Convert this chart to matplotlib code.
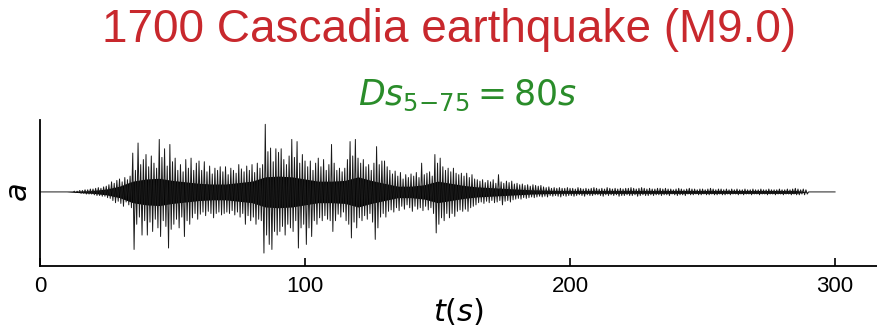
import matplotlib
matplotlib.use("Agg")
import matplotlib.pyplot as plt

# peak amplitudes per second (percent of axis half-height)
time_s = list(range(0, 301))

upper = [
    0, 0, 0, 0, 0, 0, 0, 0, 0, 0,
    0, 0, 0, 1, 1, 2, 2, 3, 3, 4,
    4, 5, 6, 5, 7, 8, 10, 14, 12, 16,
    18, 14, 20, 17, 22, 54, 30, 68, 38, 45,
    52, 35, 50, 40, 33, 73, 48, 60, 36, 66,
    42, 47, 30, 38, 28, 45, 33, 47, 30, 40,
    43, 30, 42, 28, 36, 25, 33, 30, 35, 28,
    35, 24, 33, 30, 26, 38, 32, 28, 36, 30,
    38, 27, 40, 33, 38, 94, 56, 61, 42, 60,
    55, 60, 45, 38, 50, 73, 48, 70, 40, 52,
    43, 35, 43, 30, 40, 47, 35, 45, 30, 38,
    66, 40, 30, 33, 28, 33, 45, 70, 50, 73,
    47, 40, 45, 35, 38, 30, 40, 63, 38, 43,
    43, 35, 30, 25, 29, 22, 27, 18, 24, 20,
    25, 22, 27, 20, 40, 24, 26, 28, 22, 52,
    40, 47, 35, 30, 33, 28, 33, 26, 24, 26,
    22, 26, 20, 24, 18, 17, 15, 17, 13, 16,
    14, 17, 12, 24, 14, 12, 15, 13, 15, 11,
    12, 10, 11, 9, 10, 8, 10, 9, 8, 9,
    7, 6, 7, 5, 6, 5, 6, 5, 5, 6,
    5, 5, 4, 6, 5, 4, 5, 4, 5, 6,
    5, 4, 5, 4, 6, 5, 4, 5, 4, 5,
    4, 5, 5, 6, 5, 4, 5, 6, 5, 4,
    5, 4, 4, 5, 5, 4, 5, 4, 4, 3,
    4, 5, 4, 3, 4, 5, 4, 4, 3, 4,
    4, 3, 4, 5, 4, 3, 4, 4, 3, 4,
    3, 4, 3, 4, 3, 3, 4, 3, 3, 4,
    3, 3, 4, 3, 3, 4, 3, 3, 3, 4,
    3, 3, 4, 3, 4, 5, 4, 3, 4, 3,
    0, 0, 0, 0, 0, 0, 0, 0, 0, 0,
    0]

lower = [
    0, 0, 0, 0, 0, 0, 0, 0, 0, 0,
    0, 0, 0, 1, 1, 2, 2, 3, 3, 3,
    4, 5, 5, 6, 6, 8, 9, 12, 15, 13,
    16, 20, 14, 18, 22, 80, 45, 35, 60, 40,
    60, 42, 55, 38, 50, 62, 40, 48, 78, 52,
    45, 38, 50, 35, 62, 40, 45, 36, 30, 38,
    31, 28, 33, 27, 30, 36, 30, 28, 32, 30,
    28, 30, 26, 32, 28, 35, 30, 45, 33, 40,
    35, 45, 38, 40, 85, 60, 73, 80, 55, 60,
    55, 48, 60, 45, 50, 55, 40, 78, 50, 45,
    73, 50, 62, 40, 45, 36, 40, 33, 38, 40,
    55, 40, 31, 35, 28, 40, 45, 64, 42, 50,
    36, 40, 33, 38, 30, 42, 66, 50, 35, 30,
    35, 27, 25, 28, 22, 26, 20, 24, 18, 22,
    27, 20, 24, 22, 26, 20, 25, 22, 30, 57,
    45, 36, 40, 30, 36, 30, 34, 27, 25, 27,
    24, 27, 22, 20, 18, 15, 14, 16, 13, 15,
    12, 15, 14, 12, 18, 13, 12, 14, 11, 10,
    9, 10, 8, 9, 8, 7, 8, 7, 6, 7,
    6, 7, 5, 6, 5, 6, 7, 5, 6, 5,
    5, 6, 5, 4, 5, 6, 4, 5, 5, 4,
    4, 5, 6, 4, 5, 4, 5, 4, 6, 5,
    5, 4, 5, 5, 4, 6, 5, 4, 5, 5,
    4, 5, 4, 4, 5, 4, 4, 5, 3, 4,
    5, 4, 4, 5, 3, 4, 4, 3, 4, 4,
    3, 4, 4, 3, 4, 4, 3, 4, 4, 3,
    4, 3, 3, 4, 3, 4, 3, 3, 4, 3,
    3, 4, 3, 3, 4, 3, 3, 4, 3, 3,
    4, 3, 3, 4, 3, 4, 4, 3, 4, 3,
    0, 0, 0, 0, 0, 0, 0, 0, 0, 0,
    0]

# half-width of the dense black band, every 5 s (percent)
core_t = list(range(0, 301, 5))
core = [0, 0, 0, 1, 2, 4, 8, 15, 18, 19,
        16, 14, 12, 11, 11, 13, 15, 21, 22, 21,
        18, 15, 15, 16, 21, 16, 12, 8, 8, 10,
        15, 12, 9, 7, 6, 5, 4, 3, 2.5, 2,
        2, 2, 2, 2, 2, 2, 2, 2, 2, 2,
        2, 2, 2, 2, 2, 2, 2, 2, 0, 0,
        0]

xticks = [0, 100, 200, 300]
title = "1700 Cascadia earthquake (M9.0)"
subtitle = r"$Ds_{5{-}75} = 80s$"

# trace goes up to the upper peak, then down to the lower peak half a second later
t = []
a = []
for i in range(len(time_s)):
    t.append(time_s[i])
    a.append(upper[i] / 100.0)
    if i < len(time_s) - 1:
        t.append(time_s[i] + 0.5)
        a.append(-lower[i] / 100.0)

plt.rcParams["font.family"] = ["Liberation Sans", "DejaVu Sans"]
plt.rcParams["mathtext.fontset"] = "dejavusans"

fig = plt.figure(figsize=(8.78, 3.29), dpi=100)
ax = fig.add_axes([40 / 878, 1 - 266 / 329, 1 - 40 / 878, (266 - 120) / 329])
ax.fill_between(core_t, [-c / 100.0 for c in core], [c / 100.0 for c in core],
                color="black", lw=0)
ax.plot(t, a, color="#1a1a1a", lw=0.7)

ax.set_xlim(0, 316.2)
ax.set_ylim(-1.03, 1.0)
ax.set_xticks(xticks)
ax.set_yticks([])
ax.tick_params(axis="x", direction="in", length=6, width=1.2, labelsize=16, pad=7)
for s in ["top", "right"]:
    ax.spines[s].set_visible(False)
for s in ["left", "bottom"]:
    ax.spines[s].set_linewidth(1.3)

ax.set_xlabel(r"$t(s)$", fontsize=22, labelpad=0)
ax.set_ylabel(r"$a$", fontsize=22, labelpad=4)

fig.text(449 / 878, 1 - 30 / 329, title, color="#c8282d", fontsize=33,
         ha="center", va="center")
fig.text(467 / 878, 1 - 95 / 329, subtitle, color="#2a8c2a", fontsize=25,
         ha="center", va="center")

fig.savefig("out.png", dpi=100)
